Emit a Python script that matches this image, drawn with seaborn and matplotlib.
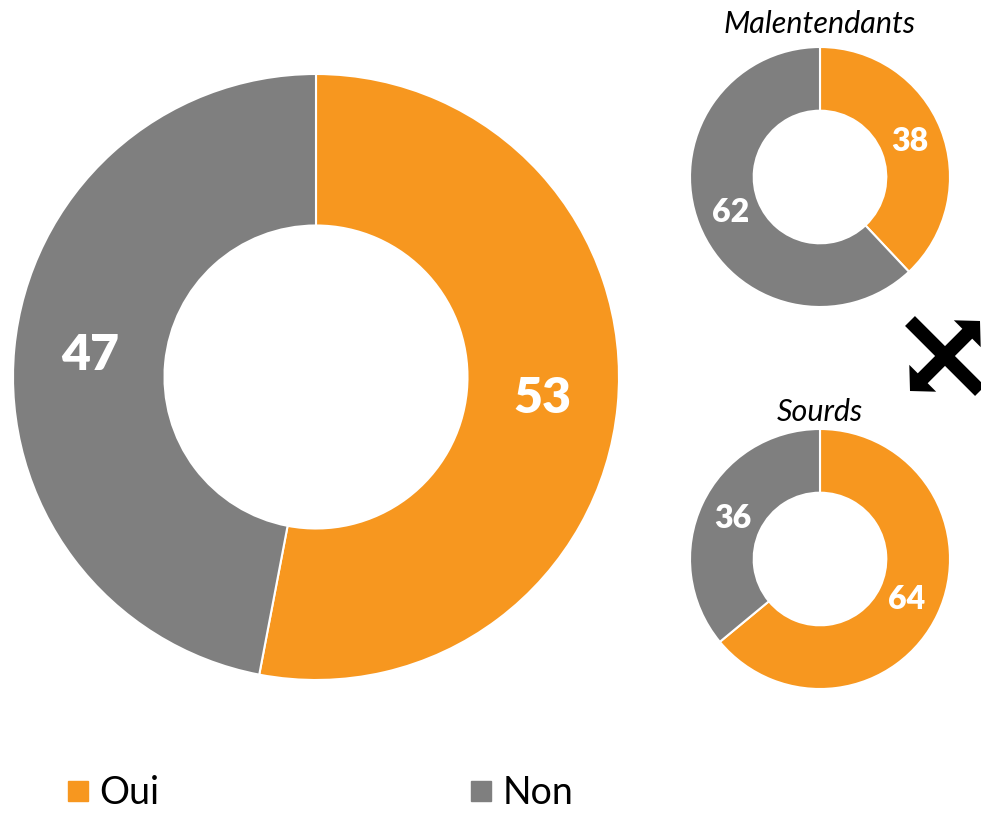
import numpy as np
import seaborn as sns
import matplotlib.pyplot as plt
from matplotlib.lines import Line2D
from matplotlib.patches import Polygon

# data
categories = ["Oui", "Non"]
total_vals = [53, 47]
malentendants_vals = [38, 62]
sourds_vals = [64, 36]
small_titles = ["Malentendants", "Sourds"]

sns.set_theme(style="white")
plt.rcParams['font.family'] = ['Lato', 'DejaVu Sans']
plt.rcParams['text.color'] = 'black'
colors = ["#F7971F", "#7F7F7F"]

W, H = 981, 814
fig = plt.figure(figsize=(W / 100, H / 100), dpi=100)


def donut_axes(cx, cy, r):
    # axes box in pixel coords (top-left origin) -> figure fraction
    return fig.add_axes([(cx - r) / W, (H - cy - r) / H, 2 * r / W, 2 * r / H])


def donut(ax, vals, width, fsize, pctdist):
    ax.pie(vals, colors=colors, startangle=90, counterclock=False,
           radius=1, pctdistance=pctdist,
           autopct=lambda p: f"{p:.0f}",
           wedgeprops=dict(width=width, edgecolor="white", linewidth=1.5),
           textprops=dict(color="white", fontsize=fsize, fontweight="heavy"))
    ax.set_xlim(-1, 1)
    ax.set_ylim(-1, 1)
    ax.set_aspect("equal")
    ax.axis("off")


ax_big = donut_axes(316, 377, 303)
donut(ax_big, total_vals, 0.5, 36, 0.75)

ax_m = donut_axes(820, 177, 130)
donut(ax_m, malentendants_vals, 0.49, 23, 0.74)
ax_m.set_title(small_titles[0], fontsize=22, style="italic", color="black", pad=10)

ax_s = donut_axes(820, 559, 130)
donut(ax_s, sourds_vals, 0.49, 23, 0.74)
ax_s.set_title(small_titles[1], fontsize=22, style="italic", color="black", pad=6)

# overlay for the crossed-arrow icon, pixel coordinates
ov = fig.add_axes([0, 0, 1, 1])
ov.set_xlim(0, W)
ov.set_ylim(H, 0)
ov.axis("off")
ov.patch.set_alpha(0)

c = np.array([945.0, 356.0])
L, hl, hw, w = 49.5, 18.0, 19.0, 7.0
u = np.array([1.0, -1.0]) / np.sqrt(2)   # towards top-right
v = np.array([1.0, 1.0]) / np.sqrt(2)    # perpendicular
# double-headed arrow
pts = [(L, 0), (L - hl, hw), (L - hl, w), (-(L - hl), w), (-(L - hl), hw),
       (-L, 0), (-(L - hl), -hw), (-(L - hl), -w), (L - hl, -w), (L - hl, -hw)]
ov.add_patch(Polygon([c + t * u + s * v for t, s in pts], closed=True,
                     facecolor="black", edgecolor="none"))
# plain bar across
bar = [(-L, -w), (L, -w), (L, w), (-L, w)]
ov.add_patch(Polygon([c + t * v + s * u for t, s in bar], closed=True,
                     facecolor="black", edgecolor="none"))

handles = [Line2D([], [], marker="s", linestyle="none", markersize=15,
                  markerfacecolor=col, markeredgecolor=col) for col in colors]
fig.legend(handles, categories, loc="center left", ncol=2, frameon=False,
           bbox_to_anchor=(45 / W, 1 - 793 / H), fontsize=27,
           handletextpad=0.2, columnspacing=8.2, borderpad=0,
           handlelength=0.75, labelcolor="black")

fig.savefig("out.png", dpi=100, facecolor="white")
